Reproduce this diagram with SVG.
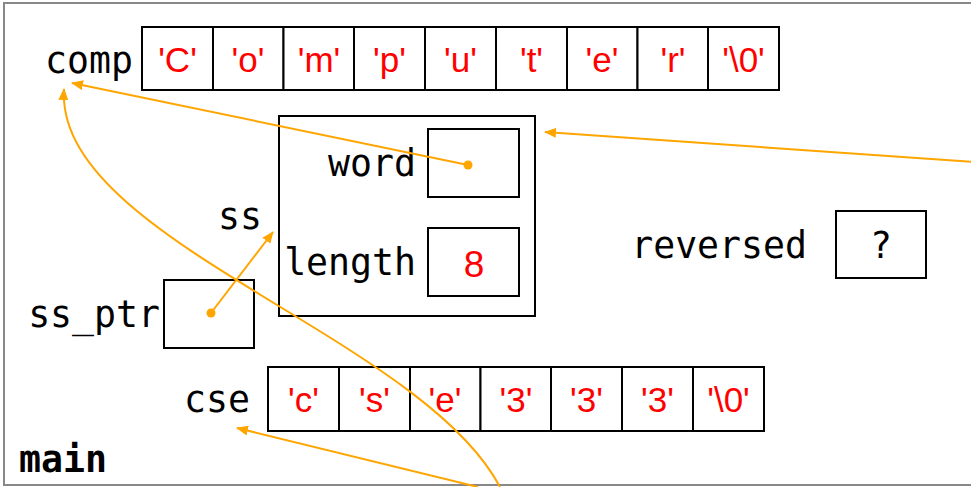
<svg xmlns="http://www.w3.org/2000/svg" width="971" height="487" viewBox="0 0 971 487">
<style>
.frame{fill:#fff;stroke:#888;stroke-width:2}
.box{fill:#fff;stroke:#000;stroke-width:2}
.lbl{font-family:"DejaVu Sans Mono",monospace;font-size:36.5px;fill:#000}
.val{font-family:"Liberation Sans",Arial,sans-serif;font-size:35px;fill:#f00;text-anchor:middle}
.conn{fill:none;stroke:#FFA500;stroke-width:2}
.dot{fill:#FFA500}
</style>
<defs>
<marker id="ah" markerWidth="12" markerHeight="10" refX="11" refY="5" orient="auto" markerUnits="userSpaceOnUse">
<path d="M0,0 L12,5 L0,10 Z" fill="#FFA500"/>
</marker>
</defs>
<rect class="frame" x="4" y="3" width="1000" height="482"/>
<text class="lbl" x="19" y="472" style="font-weight:bold">main</text>
<g id="comp">
<text class="lbl" x="133" y="73" text-anchor="end">comp</text>
<rect class="box" x="142" y="27" width="71" height="63"/>
<rect class="box" x="213" y="27" width="70.5" height="63"/>
<rect class="box" x="283.5" y="27" width="70.5" height="63"/>
<rect class="box" x="354" y="27" width="71" height="63"/>
<rect class="box" x="425" y="27" width="71" height="63"/>
<rect class="box" x="496" y="27" width="71" height="63"/>
<rect class="box" x="567" y="27" width="70.5" height="63"/>
<rect class="box" x="637.5" y="27" width="70.5" height="63"/>
<rect class="box" x="708" y="27" width="71" height="63"/>
<text class="val" x="177.5" y="72">'C'</text>
<text class="val" x="248" y="72">'o'</text>
<text class="val" x="319" y="72">'m'</text>
<text class="val" x="389.5" y="72">'p'</text>
<text class="val" x="460.5" y="72">'u'</text>
<text class="val" x="531.5" y="72">'t'</text>
<text class="val" x="602" y="72">'e'</text>
<text class="val" x="673" y="72">'r'</text>
<text class="val" x="743.5" y="72">'\0'</text>
</g>
<g id="ss">
<text class="lbl" x="262" y="229" text-anchor="end">ss</text>
<rect class="box" x="279" y="116" width="256" height="200"/>
<text class="lbl" x="416" y="176" text-anchor="end">word</text>
<rect class="box" x="428" y="129" width="91" height="68"/>
<text class="lbl" x="416" y="275" text-anchor="end">length</text>
<rect class="box" x="428" y="228" width="91" height="68"/>
<text class="val" x="474" y="277" style="font-size:37px">8</text>
</g>
<g id="ss_ptr">
<text class="lbl" x="160" y="327" text-anchor="end">ss_ptr</text>
<rect class="box" x="164" y="280" width="90" height="68"/>
</g>
<g id="reversed">
<text class="lbl" x="807" y="258" text-anchor="end">reversed</text>
<rect class="box" x="836" y="211" width="90" height="67"/>
<text class="lbl" x="881" y="258" text-anchor="middle">?</text>
</g>
<g id="cse">
<text class="lbl" x="250" y="412" text-anchor="end">cse</text>
<rect class="box" x="268" y="367" width="71" height="64"/>
<rect class="box" x="339" y="367" width="71" height="64"/>
<rect class="box" x="410" y="367" width="70.5" height="64"/>
<rect class="box" x="480.5" y="367" width="70.5" height="64"/>
<rect class="box" x="551" y="367" width="71" height="64"/>
<rect class="box" x="622" y="367" width="71" height="64"/>
<rect class="box" x="693" y="367" width="71" height="64"/>
<text class="val" x="303.5" y="412">'c'</text>
<text class="val" x="374.5" y="412">'s'</text>
<text class="val" x="445" y="412">'e'</text>
<text class="val" x="516" y="412">'3'</text>
<text class="val" x="586.5" y="412">'3'</text>
<text class="val" x="657.5" y="412">'3'</text>
<text class="val" x="728.5" y="412">'\0'</text>
</g>
<g id="connectors">
<line class="conn" x1="468" y1="165" x2="72" y2="83" marker-end="url(#ah)"/>
<circle class="dot" cx="468" cy="165" r="4.5"/>
<line class="conn" x1="975" y1="162" x2="545" y2="132" marker-end="url(#ah)"/>
<line class="conn" x1="211" y1="313" x2="273" y2="232" marker-end="url(#ah)"/>
<circle class="dot" cx="211" cy="313" r="4.5"/>
<path class="conn" d="M500,487 C420,335 55,240 64,89" marker-end="url(#ah)"/>
<line class="conn" x1="478" y1="487" x2="237" y2="428" marker-end="url(#ah)"/>
</g>
</svg>
